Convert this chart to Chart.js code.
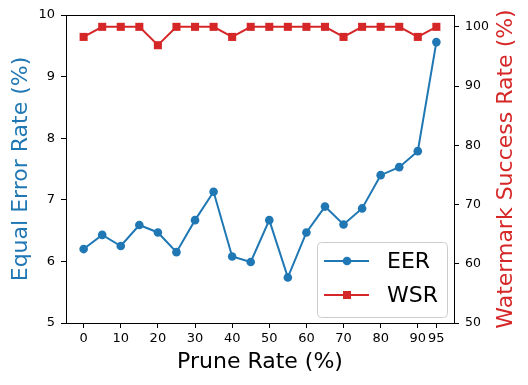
<!DOCTYPE html>
<html>
<head>
<meta charset="utf-8">
<script src="https://cdn.jsdelivr.net/npm/chart.js@4"></script>
<style>
  html, body { margin: 0; padding: 0; background: #fff; }
  #wrap { width: 528px; height: 385px; }
</style>
</head>
<body>
<div id="wrap"><canvas id="myChart" width="528" height="385"></canvas></div>
<script>
// data
const pruneRates = [0, 5, 10, 15, 20, 25, 30, 35, 40, 45, 50, 55, 60, 65, 70, 75, 80, 85, 90, 95];
const eerValues = [6.2, 6.43, 6.25, 6.59, 6.47, 6.15, 6.67, 7.13, 6.08, 5.99, 6.67, 5.74, 6.47, 6.89, 6.6, 6.86, 7.4, 7.53, 7.79, 9.56];
const wsrValues = [98.3, 100, 100, 100, 96.9, 100, 100, 100, 98.3, 100, 100, 100, 100, 100, 98.3, 100, 100, 100, 98.3, 100];
const xTicks = [0, 10, 20, 30, 40, 50, 60, 70, 80, 90, 95];
const eerTicks = [5, 6, 7, 8, 9, 10];
const wsrTicks = [50, 60, 70, 80, 90, 100];

const BLUE = "#1f77b4";
const RED = "#d62728";
const FONT = "'DejaVu Sans', sans-serif";

Chart.defaults.font.family = FONT;
Chart.defaults.color = "#000";

function toPoints(ys) {
  return pruneRates.map((x, i) => ({ x: x, y: ys[i] }));
}

function fixedTicks(list) {
  return (scale) => {
    scale.ticks = list.map((v) => ({ value: v }));
  };
}

// frame around the plot area, like matplotlib spines
const framePlugin = {
  id: "frame",
  afterDatasetsDraw(chart) {
    const { ctx, chartArea: a } = chart;
    ctx.save();
    ctx.strokeStyle = "#000";
    ctx.lineWidth = 1;
    ctx.strokeRect(a.left + 0.5, a.top + 0.5, a.right - a.left, a.bottom - a.top);
    ctx.restore();
  },
};

// right axis title, reading bottom to top
const rightTitlePlugin = {
  id: "rightTitle",
  afterDraw(chart) {
    const { ctx, chartArea: a } = chart;
    ctx.save();
    ctx.translate(506, (a.top + a.bottom) / 2);
    ctx.rotate(-Math.PI / 2);
    ctx.font = "22px " + FONT;
    ctx.fillStyle = RED;
    ctx.textAlign = "center";
    ctx.textBaseline = "middle";
    ctx.fillText("Watermark Success Rate (%)", 0, 0);
    ctx.restore();
  },
};

// legend box in the lower right corner of the plot
const legendPlugin = {
  id: "cornerLegend",
  afterDraw(chart) {
    const { ctx } = chart;
    const bx = 317, by = 242, bw = 130, bh = 75, r = 4;
    ctx.save();
    ctx.beginPath();
    ctx.roundRect(bx + 0.5, by + 0.5, bw, bh, r);
    ctx.fillStyle = "rgba(255,255,255,0.8)";
    ctx.fill();
    ctx.strokeStyle = "#cccccc";
    ctx.lineWidth = 1;
    ctx.stroke();

    const rows = [
      { label: "EER", color: BLUE, style: "circle", y: 261 },
      { label: "WSR", color: RED, style: "rect", y: 295 },
    ];
    rows.forEach((row) => {
      ctx.strokeStyle = row.color;
      ctx.lineWidth = 2;
      ctx.beginPath();
      ctx.moveTo(324, row.y);
      ctx.lineTo(369, row.y);
      ctx.stroke();
      ctx.fillStyle = row.color;
      if (row.style === "circle") {
        ctx.beginPath();
        ctx.arc(347, row.y, 4.3, 0, Math.PI * 2);
        ctx.fill();
      } else {
        ctx.fillRect(343, row.y - 4, 8, 8);
      }
      ctx.fillStyle = "#000";
      ctx.font = "22px " + FONT;
      ctx.textAlign = "left";
      ctx.textBaseline = "middle";
      ctx.fillText(row.label, 387, row.y + 1);
    });
    ctx.restore();
  },
};

const ctx = document.getElementById("myChart").getContext("2d");
const myChart = new Chart(ctx, {
  type: "line",
  data: {
    datasets: [
      {
        label: "EER",
        data: toPoints(eerValues),
        yAxisID: "y",
        borderColor: BLUE,
        backgroundColor: BLUE,
        borderWidth: 2,
        pointStyle: "circle",
        pointRadius: 4.3,
        pointBorderWidth: 0,
        pointHoverRadius: 4.3,
        tension: 0,
        order: 1,
      },
      {
        label: "WSR",
        data: toPoints(wsrValues),
        yAxisID: "y2",
        borderColor: RED,
        backgroundColor: RED,
        borderWidth: 2,
        pointStyle: "rect",
        pointRadius: 5.7,
        pointBorderWidth: 0,
        pointHoverRadius: 5.7,
        tension: 0,
        order: 0,
      },
    ],
  },
  options: {
    responsive: false,
    animation: false,
    layout: { padding: { top: 15, left: 0, right: 0, bottom: 0 } },
    plugins: {
      legend: { display: false },
      tooltip: { enabled: false },
    },
    scales: {
      x: {
        type: "linear",
        min: -4.75,
        max: 99.75,
        afterBuildTicks: fixedTicks(xTicks),
        afterFit: (scale) => { scale.height = 62; },
        grid: { drawOnChartArea: false, drawTicks: true, tickLength: 5, color: "#000", lineWidth: 1 },
        border: { display: true, color: "#000", width: 1 },
        ticks: { font: { size: 13 }, padding: 3, maxRotation: 0, autoSkip: false },
        title: { display: true, text: "Prune Rate (%)", font: { size: 22 }, color: "#000", padding: { top: 0, bottom: 10 } },
      },
      y: {
        type: "linear",
        position: "left",
        min: 5,
        max: 10,
        afterBuildTicks: fixedTicks(eerTicks),
        afterFit: (scale) => { scale.width = 66; },
        grid: { drawOnChartArea: false, drawTicks: true, tickLength: 5, color: "#000", lineWidth: 1 },
        border: { display: true, color: "#000", width: 1 },
        ticks: { font: { size: 13 }, padding: 6 },
        title: { display: true, text: "Equal Error Rate (%)", font: { size: 22 }, color: BLUE, padding: { top: 8, bottom: 0 } },
      },
      y2: {
        type: "linear",
        position: "right",
        min: 50,
        max: 102,
        afterBuildTicks: fixedTicks(wsrTicks),
        afterFit: (scale) => { scale.width = 74; },
        grid: { drawOnChartArea: false, drawTicks: true, tickLength: 5, color: "#000", lineWidth: 1 },
        border: { display: true, color: "#000", width: 1 },
        ticks: { font: { size: 12.5 }, padding: 6 },
      },
    },
  },
  plugins: [framePlugin, rightTitlePlugin, legendPlugin],
});
</script>
</body>
</html>
